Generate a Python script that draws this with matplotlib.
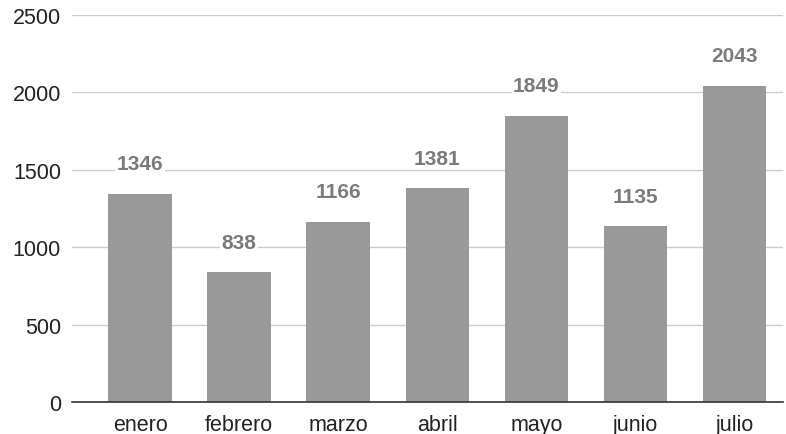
import matplotlib.pyplot as plt

plt.rcParams['font.family'] = ['Liberation Sans', 'DejaVu Sans']

meses = ['enero', 'febrero', 'marzo', 'abril', 'mayo', 'junio', 'julio']
valores = [1346, 838, 1166, 1381, 1849, 1135, 2043]

fig = plt.figure(figsize=(7.86, 4.35), dpi=100)
ax = fig.add_axes([72 / 786, 32 / 435, 711 / 786, 387 / 435])

x = list(range(len(meses)))
bars = ax.bar(x, valores, width=0.64, color='#999999', zorder=3)

# etiquetas de valor sobre cada barra
for b, v in zip(bars, valores):
    ax.annotate(str(v), (b.get_x() + b.get_width() / 2, v),
                xytext=(0, 21.5), textcoords='offset points',
                ha='center', va='center', fontsize=15, fontweight='bold',
                color='#7a7a7a', zorder=4,
                bbox=dict(facecolor='white', edgecolor='none', pad=1))

ax.set_ylim(0, 2500)
ax.set_yticks([0, 500, 1000, 1500, 2000, 2500])
ax.set_xlim(-0.687, 6.49)
ax.set_xticks(x)
ax.set_xticklabels(meses)
ax.grid(axis='y', color='#cccccc', linewidth=1, zorder=0)
for s in ['top', 'right', 'left']:
    ax.spines[s].set_visible(False)
ax.spines['bottom'].set_color('#333333')
ax.spines['bottom'].set_linewidth(1.2)
ax.spines['bottom'].set_zorder(5)
ax.tick_params(axis='both', length=0, labelsize=15.5, colors='#222222')
ax.tick_params(axis='y', pad=8)
ax.tick_params(axis='x', pad=9)

plt.savefig('out.png', dpi=100)
